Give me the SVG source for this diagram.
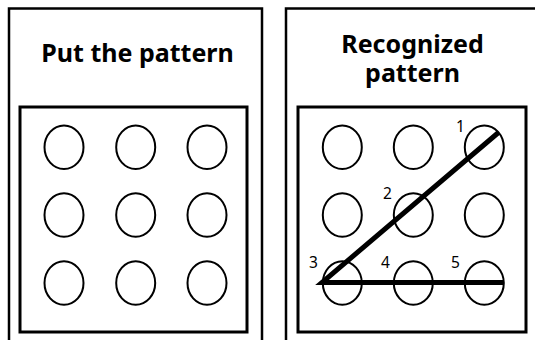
<svg xmlns="http://www.w3.org/2000/svg" width="535" height="340" viewBox="0 0 535 340">
<style>
.outer{fill:none;stroke:#000;stroke-width:2.5}
.inner{fill:none;stroke:#000;stroke-width:3}
.dot{fill:none;stroke:#000;stroke-width:2}
.title{font-family:"Noto Sans","DejaVu Sans",sans-serif;font-weight:bold;font-size:25px;text-anchor:middle;fill:#000}
.num{font-family:"Noto Sans","DejaVu Sans",sans-serif;font-size:15.5px;fill:#000}
.path{stroke:#000;stroke-width:5;fill:none;stroke-linecap:butt}
</style>
<rect width="535" height="340" fill="#fff"/>
<g id="panel-left">
<rect class="outer" x="9" y="8.5" width="253" height="345"/>
<text class="title" x="137.5" y="62">Put the pattern</text>
<rect class="inner" x="20" y="107" width="227" height="225"/>
<g id="grid-left">
<ellipse class="dot" cx="64" cy="147.3" rx="19.5" ry="21.7"/>
<ellipse class="dot" cx="135.7" cy="147.3" rx="19.5" ry="21.7"/>
<ellipse class="dot" cx="207" cy="147.3" rx="19.5" ry="21.7"/>
<ellipse class="dot" cx="64" cy="215" rx="19.5" ry="21.7"/>
<ellipse class="dot" cx="135.7" cy="215" rx="19.5" ry="21.7"/>
<ellipse class="dot" cx="207" cy="215" rx="19.5" ry="21.7"/>
<ellipse class="dot" cx="64" cy="283" rx="19.5" ry="21.7"/>
<ellipse class="dot" cx="135.7" cy="283" rx="19.5" ry="21.7"/>
<ellipse class="dot" cx="207" cy="283" rx="19.5" ry="21.7"/>
</g>
</g>
<g id="panel-right">
<rect class="outer" x="286" y="8.5" width="260" height="345"/>
<text class="title" x="412.5" y="53">Recognized</text>
<text class="title" x="412.5" y="82">pattern</text>
<rect class="inner" x="298" y="107" width="228" height="225"/>
<g id="grid-right">
<ellipse class="dot" cx="342.3" cy="147.3" rx="19.5" ry="21.7"/>
<ellipse class="dot" cx="413.3" cy="147.3" rx="19.5" ry="21.7"/>
<ellipse class="dot" cx="484.3" cy="147.3" rx="19.5" ry="21.7"/>
<ellipse class="dot" cx="342.3" cy="215" rx="19.5" ry="21.7"/>
<ellipse class="dot" cx="413.3" cy="215" rx="19.5" ry="21.7"/>
<ellipse class="dot" cx="484.3" cy="215" rx="19.5" ry="21.7"/>
<ellipse class="dot" cx="342.3" cy="283" rx="19.5" ry="21.7"/>
<ellipse class="dot" cx="413.3" cy="283" rx="19.5" ry="21.7"/>
<ellipse class="dot" cx="484.3" cy="283" rx="19.5" ry="21.7"/>
</g>
</g>
<g id="connectors">
<polyline class="path" points="498.5,132.5 322,282.5 503.5,282.5"/>
</g>
<g id="labels">
<text class="num" x="456" y="132">1</text>
<text class="num" x="383" y="199">2</text>
<text class="num" x="309" y="268">3</text>
<text class="num" x="381" y="268">4</text>
<text class="num" x="451" y="268">5</text>
</g>
</svg>
